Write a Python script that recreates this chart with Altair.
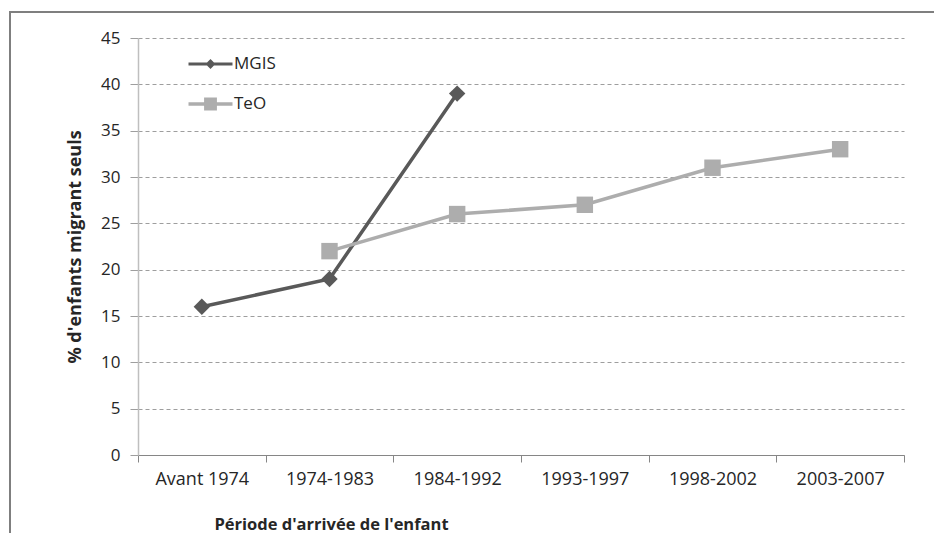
import altair as alt
import pandas as pd

periodes = ["Avant 1974", "1974-1983", "1984-1992", "1993-1997", "1998-2002", "2003-2007"]
mgis_periodes = ["Avant 1974", "1974-1983", "1984-1992"]
mgis_valeurs = [16, 19, 39]
teo_periodes = ["1974-1983", "1984-1992", "1993-1997", "1998-2002", "2003-2007"]
teo_valeurs = [22, 26, 27, 31, 33]
series = ["MGIS", "TeO"]
couleurs = ["#595959", "#ADADAD"]
y_ticks = [0, 5, 10, 15, 20, 25, 30, 35, 40, 45]

df_mgis = pd.DataFrame({"periode": mgis_periodes, "valeur": mgis_valeurs, "serie": "MGIS"})
df_teo = pd.DataFrame({"periode": teo_periodes, "valeur": teo_valeurs, "serie": "TeO"})
df = pd.concat([df_mgis, df_teo])
df["ordre"] = df["serie"].map({"TeO": 0, "MGIS": 1})

FONT = "Open Sans"
W, H = 766, 417

# legend symbols: a short line segment with the series marker in its middle
path_mgis = "M-1.2,-0.08L1.2,-0.08L1.2,0.08L-1.2,0.08ZM0,-0.27L0.27,0L0,0.27L-0.27,0Z"
path_teo = "M-1.2,-0.095L1.2,-0.095L1.2,0.095L-1.2,0.095ZM-0.35,-0.35L0.35,-0.35L0.35,0.35L-0.35,0.35Z"

x_enc = alt.X("periode:N", sort=periodes, scale=alt.Scale(domain=periodes, paddingInner=0, paddingOuter=0),
              axis=alt.Axis(title="Période d'arrivée de l'enfant", labelAngle=0, tickBand="extent",
                            tickSize=7, tickColor="#868686", domainColor="#868686", domainWidth=1,
                            labelFont=FONT, labelFontSize=18, labelColor="#262626", labelPadding=8,
                            titleFont=FONT, titleFontSize=16.5, titleFontWeight="bold", titleColor="#262626",
                            titleX=193, titleY=74, titleBaseline="alphabetic", titleAlign="center", grid=False))
y_enc = alt.Y("valeur:Q", scale=alt.Scale(domain=[0, 45], nice=False),
              axis=alt.Axis(title="% d'enfants migrant seuls", values=y_ticks, grid=True,
                            gridDash=[4, 3], gridColor="#9E9E9E", gridWidth=1,
                            tickSize=8, tickColor="#9E9E9E", domainColor="#BFBFBF", domainWidth=1.5,
                            labelFont=FONT, labelFontSize=17, labelColor="#262626", labelPadding=10,
                            titleFont=FONT, titleFontSize=18, titleFontWeight="bold", titleColor="#262626",
                            titleX=-63, titleY=H / 2, titleAngle=-90, titleBaseline="middle", titleAlign="center"))

color_scale = alt.Scale(domain=series, range=couleurs)

lines = alt.Chart(df).mark_line(strokeWidth=3.5).encode(
    x=x_enc, y=y_enc,
    color=alt.Color("serie:N", scale=color_scale, legend=None),
    order=alt.Order("ordre:Q"),
    detail="serie:N",
)

points = alt.Chart(df).mark_point(filled=True, opacity=1, size=270).encode(
    x=x_enc, y=y_enc,
    color=alt.Color("serie:N", scale=color_scale, legend=None),
    shape=alt.Shape("serie:N", scale=alt.Scale(domain=series, range=["diamond", "square"]), legend=None),
)


def legend_layer(data, path, colour, ly):
    leg = alt.Legend(title=None, orient="none", legendX=54, legendY=ly, symbolSize=1344,
                     symbolStrokeWidth=0, symbolOpacity=1, symbolFillColor=colour,
                     labelFont=FONT, labelFontSize=17, labelColor="#262626", labelOffset=5, padding=0)
    return alt.Chart(data).mark_point(opacity=0, filled=True, fill=colour).encode(
        x=x_enc, y=y_enc,
        shape=alt.Shape("serie:N", scale=alt.Scale(range=[path]), legend=leg),
    )


leg_mgis = legend_layer(df_mgis, path_mgis, couleurs[0], 7.5)
leg_teo = legend_layer(df_teo, path_teo, couleurs[1], 47.5)

frame_df = pd.DataFrame({"k": [0]})
frame_left = alt.Chart(frame_df).mark_rule(color="#7F7F7F", strokeWidth=2).encode(
    x=alt.value(-128), y=alt.value(-26), y2=alt.value(495))
frame_top = alt.Chart(frame_df).mark_rule(color="#7F7F7F", strokeWidth=2).encode(
    x=alt.value(-129), x2=alt.value(W + 30), y=alt.value(-26))

chart = alt.layer(frame_left, frame_top, lines, points, leg_mgis, leg_teo).resolve_scale(
    shape="independent"
).properties(
    width=W, height=H,
    autosize=alt.AutoSizeParams(type="none"),
    padding={"left": 130, "top": 30, "right": 30, "bottom": 78},
    background="white",
).configure_view(stroke=None)

chart.save("out.html", embed_options={"renderer": "svg", "actions": False})
